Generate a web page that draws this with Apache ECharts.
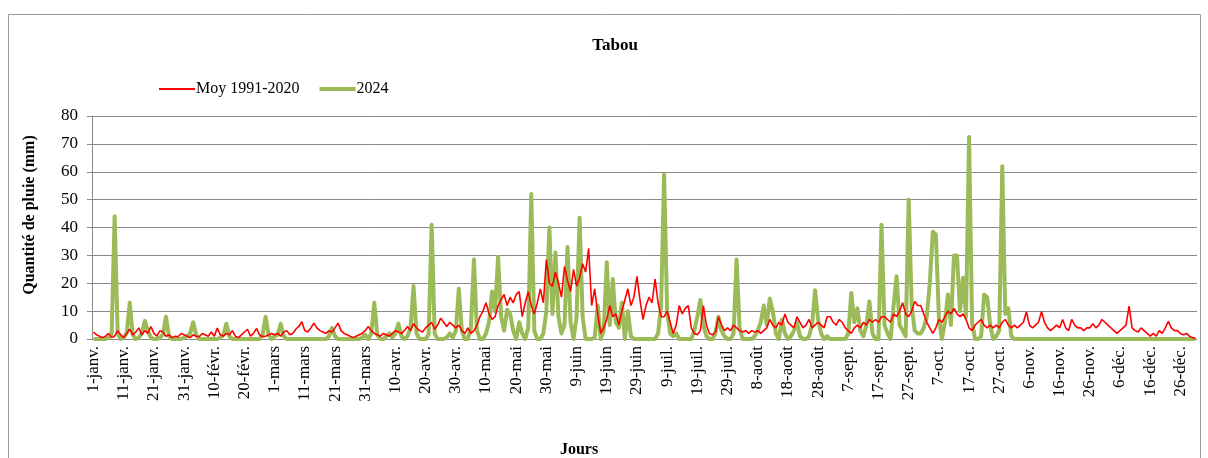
<!DOCTYPE html>
<html>
<head>
<meta charset="utf-8">
<script src="https://cdn.jsdelivr.net/npm/echarts@6/dist/echarts.min.js"></script>
<style>
  html, body { margin: 0; padding: 0; background: #ffffff; }
  #chart { width: 1208px; height: 458px; }
</style>
</head>
<body>
<div id="chart"></div>
<script>
// Month names and lengths (2024 is a leap year)
const monthNames = ['janv.', 'févr.', 'mars', 'avr.', 'mai', 'juin', 'juil.', 'août', 'sept.', 'oct.', 'nov.', 'déc.'];
const monthDays = [31, 29, 31, 30, 31, 30, 31, 31, 30, 31, 30, 31];

// Daily normal rainfall 1991-2020 (mm), month by month
const moyJan = [2.5,1.5,1,0.5,1,2,0.5,1,3,1.5, 0.5,2,3.5,1.5,2.5,4,1.5,3,2,4.5, 2,1,3,2.5,1,1.5,0.5,1,0.8,2, 1.5];
const moyFeb = [1,0.5,1.5,1,0.8,2,1.5,1,2.5,1, 3.9,1.5,1,2,1.5,3,1,0.5,1.5,2.5, 3.5,1,2,3.8,1.5,0.8,1,1.5,2];
const moyMar = [1.5,2,1,2.5,3,1.5,2,3.5,4.5,6.2, 3,2.5,4,5.7,4,3,2.5,2,3,2.5, 4,5.7,3,2,1.5,1,0.5,1,1.5,2, 3];
const moyApr = [4.5,3,2,1.5,1,2,1.5,1,2,3, 2.5,2,3,4.5,3,5.5,4,3,2.5,4, 5,6,3.5,5,7.5,6,4.5,6,5,4];
const moyMay = [5,3,2,4,2,3,5,8,10,13, 9,7,8,12,14,16,12,15,13,16, 17,8,13,17,12,9,13,18,13,28.5, 20];
const moyJun = [19,24,20,15,26,21,17,25,19,22, 27,24,32.5,12,18,9,2,4,7,12, 8,9,5,10,14,18,12,15,22.5,14];
const moyJul = [7,12,15,13,21.5,13,8,8,10,6, 2,5,12,9,11,12,4,2,1.5,3, 12,5,2,1.5,2.5,8,5,3,4,3, 5];
const moyAug = [4,3,2.5,3,2,3,2.5,3,2,3, 4,7,5,4,6,5,9,6,5,4, 8,6,4,5,7,4,5,6,5,4, 8];
const moySep = [8,6,5,7,6,4,3,2,4,5, 4,6,5,7,6,7,6,8,8,7, 6,9,8,10,13,9,8,10,13.5,12];
const moyOct = [12,9,6,4,2,4,7,6,8,10, 9,11,9,8,9,7,4,3,5,6, 7,5,4,5,4,5,4,6,7,5, 4];
const moyNov = [5,4,5,6,9.8,5,4,5,6,9.8, 6,4,3,4,5,4,7,4,3,7, 5,4,4,3,4,4,5.5,4,5,7];
const moyDec = [6,5,4,3,2,3,4,5,11.8,4, 3,2.5,4,3,2,1,2,1,3,2, 4,6.3,4,3,3,2,1.5,2,1,0.5, 0.2];

// Daily rainfall 2024 (mm), month by month
const y24Jan = [0,0,0,0,0,0.5,1.5,44,2,0, 0.5,2,13,1.5,0,0.5,2,6.5,3,0.5, 0,0,0.5,1.5,8,1,0,0,0,0, 0.5];
const y24Feb = [1,2,6,1.5,0,0,0,0,0,0, 0,0.5,1.5,5.5,1,0,0,0,0,0, 0,0,0,0,0,1.5,8,1.5,0];
const y24Mar = [1,1.5,5.5,1,0,0,0,0,0,0, 0,0,0,0,0,0,0,0,1,4, 1,0,0,0,0,0,0,0,0,0.5, 1.5];
const y24Apr = [0,2,13,1.5,0,0,1,2,0.5,2, 5.5,1,0,1,4,19,2,0,0,0, 1.5,41,2,0,0,0,0.5,2,0.5,3];
const y24May = [18,3,0,0,4,28.5,3,0,0,2, 6,17,10,29.5,8,3,10.5,9,3,0, 6,2,0,4,52,3,0,0,2,10, 40];
const y24Jun = [9,31,8,2,5,33,6,0,8,43.5, 8,0,0,0,0.5,12,0,3,27.5,5, 21.5,6,4,13,0,10,1,0,0,0];
const y24Jul = [0,0,0,0,0,2,12,59,10,2, 1,2,0,0,0,0,0,3,8,14, 5,1,0,0,2,8,3,1,0,0, 2];
const y24Aug = [28.5,4,0,0,0,0,1,3,6,12, 5,14.5,10,2,0,7,2,0,1,3, 6,1,0,0,1,5,17.5,7,2,0, 1];
const y24Sep = [0,0,0,0,0,0,2,16.5,6,11, 3,1,5,13.5,2,0,0,41,5,2, 0,12,22.5,5,3,1,50,12,3,2];
const y24Oct = [2,4,8,20,38.5,37.5,8,0,6,16, 5,30,30,10,22,8,72.5,6,0,0, 1,16,15,5,0,1,3,62,9,11, 1];
const y24Nov = [0,0,0,0,0,0,0,0,0,0, 0,0,0,0,0,0,0,0,0,0, 0,0,0,0,0,0,0,0,0,0];
const y24Dec = [0,0,0,0,0,0,0,0,0,0, 0,0,0,0,0,0,0,0,0,0, 0,0,0,0,0,0,0,0,0,0, 0];

// Y axis ticks
const yTicks = [0, 10, 20, 30, 40, 50, 60, 70, 80];

const moy = [].concat(moyJan, moyFeb, moyMar, moyApr, moyMay, moyJun, moyJul, moyAug, moySep, moyOct, moyNov, moyDec);
const y2024 = [].concat(y24Jan, y24Feb, y24Mar, y24Apr, y24May, y24Jun, y24Jul, y24Aug, y24Sep, y24Oct, y24Nov, y24Dec);

// Day labels such as "1-janv."
const days = [];
monthNames.forEach(function (m, i) {
  for (let d = 1; d <= monthDays[i]; d++) days.push(d + '-' + m);
});

const serif = 'Liberation Serif, Times New Roman, serif';
const chart = echarts.init(document.getElementById('chart'), null, { renderer: 'canvas' });

// Plain line swatches for the legend (thin red, thick green)
const thinLine = 'path://M0,0H36V2H0Z';
const thickLine = 'path://M0,0H36V4H0Z';

chart.setOption({
  backgroundColor: '#ffffff',
  animation: false,
  textStyle: { fontFamily: serif },
  title: {
    text: 'Tabou',
    left: 610, top: 32, textAlign: 'center',
    textStyle: { fontFamily: serif, fontSize: 17, fontWeight: 'bold', color: '#000' }
  },
  legend: {
    left: 154, top: 76,
    itemWidth: 36, itemHeight: 10, itemGap: 20,
    symbolKeepAspect: true,
    textStyle: { fontFamily: serif, fontSize: 16, color: '#000', padding: [0, 0, 0, -4] },
    data: [
      { name: 'Moy 1991-2020', icon: thinLine, itemStyle: { color: '#ff0000' } },
      { name: '2024', icon: thickLine, itemStyle: { color: '#9bbb59' } }
    ]
  },
  grid: { left: 92, right: 11, top: 116, bottom: 119, containLabel: false },
  xAxis: {
    type: 'category',
    data: days,
    boundaryGap: true,
    axisLine: { lineStyle: { color: '#8a8a8a', width: 1 } },
    axisTick: { interval: 9, alignWithLabel: true, length: 5, lineStyle: { color: '#8a8a8a' } },
    axisLabel: {
      interval: 9, rotate: 90, margin: 7,
      fontFamily: serif, fontSize: 17, color: '#000'
    },
    splitLine: { show: false }
  },
  yAxis: {
    type: 'value',
    min: yTicks[0], max: yTicks[yTicks.length - 1], interval: 10,
    axisLine: { show: true, lineStyle: { color: '#8a8a8a' } },
    axisTick: { show: true, length: 5, lineStyle: { color: '#8a8a8a' } },
    axisLabel: { fontFamily: serif, fontSize: 17, color: '#000', margin: 14 },
    splitLine: { lineStyle: { color: '#8a8a8a', width: 1 } }
  },
  graphic: [
    {
      type: 'rect', silent: true, z: -1,
      shape: { x: 8.5, y: 14.5, width: 1192, height: 470 },
      style: { fill: 'none', stroke: '#9a9a9a', lineWidth: 1 }
    },
    {
      type: 'text', x: 30, y: 215, rotation: Math.PI / 2,
      style: {
        text: 'Quantité de pluie (mm)', fontFamily: serif, fontSize: 16, fontWeight: 'bold',
        fill: '#000', align: 'center', verticalAlign: 'middle'
      }
    },
    {
      type: 'text', x: 579, y: 450,
      style: {
        text: 'Jours', fontFamily: serif, fontSize: 16, fontWeight: 'bold',
        fill: '#000', align: 'center', verticalAlign: 'middle'
      }
    }
  ],
  series: [
    {
      name: 'Moy 1991-2020', type: 'line', data: moy,
      symbol: 'none', z: 3,
      lineStyle: { color: '#ff0000', width: 1.6 },
      itemStyle: { color: '#ff0000' }
    },
    {
      name: '2024', type: 'line', data: y2024,
      symbol: 'none', z: 2,
      lineStyle: { color: '#9bbb59', width: 4, join: 'round' },
      itemStyle: { color: '#9bbb59' }
    }
  ]
});
</script>
</body>
</html>
